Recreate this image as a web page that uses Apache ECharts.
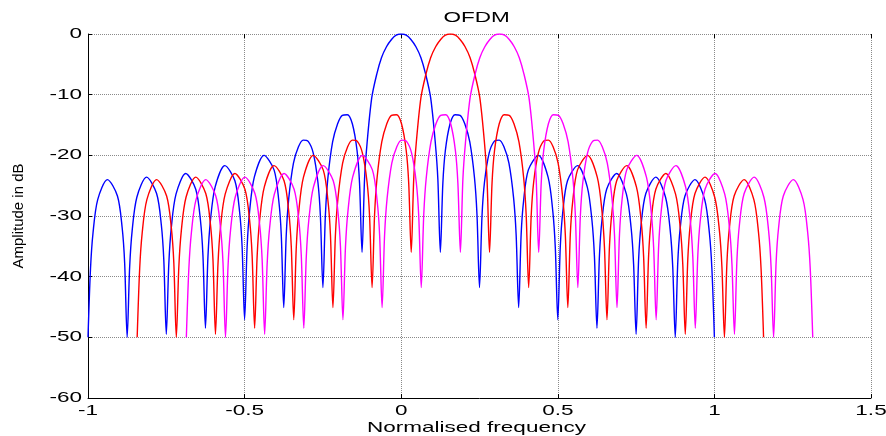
<!DOCTYPE html>
<html><head><meta charset="utf-8">
<script src="https://cdn.jsdelivr.net/npm/echarts@6/dist/echarts.min.js"></script>
<style>html,body{margin:0;padding:0;background:#fff}#c{width:886px;height:436px}</style>
</head><body><div id="c"></div>
<script>
const titleText = 'OFDM';
const xAxisTitle = 'Normalised frequency';
const yAxisTitle = 'Amplitude in dB';
const xTicks = [-1, -0.5, 0, 0.5, 1, 1.5];
const xTickLabels = ['-1', '-0.5', '0', '0.5', '1', '1.5'];
const yTicks = [0, -10, -20, -30, -40, -50, -60];
const yTickLabels = ['0', '-10', '-20', '-30', '-40', '-50', '-60'];

const blueX = [-1, -0.992, -0.984, -0.969, -0.938, -0.906, -0.891, -0.883, -0.875, -0.867, -0.859, -0.844, -0.813, -0.781, -0.766, -0.758, -0.75, -0.742, -0.734, -0.719, -0.688, -0.656, -0.641, -0.633, -0.625, -0.617, -0.609, -0.594, -0.563, -0.531, -0.516, -0.508, -0.5, -0.492, -0.484, -0.469, -0.438, -0.406, -0.391, -0.383, -0.375, -0.367, -0.359, -0.344, -0.328, -0.313, -0.297, -0.281, -0.266, -0.258, -0.25, -0.242, -0.234, -0.219, -0.203, -0.188, -0.172, -0.156, -0.141, -0.133, -0.125, -0.117, -0.109, -0.094, -0.078, -0.063, -0.047, -0.031, -0.016,
  0, 0.016, 0.031, 0.047, 0.063, 0.078, 0.094, 0.109, 0.117, 0.125, 0.133, 0.141, 0.156, 0.172, 0.188, 0.203, 0.219, 0.234, 0.242, 0.25, 0.258, 0.266, 0.281, 0.297, 0.313, 0.328, 0.344, 0.359, 0.367, 0.375, 0.383, 0.391, 0.406, 0.438, 0.469, 0.484, 0.492, 0.5, 0.508, 0.516, 0.531, 0.563, 0.594, 0.609, 0.617, 0.625, 0.633, 0.641, 0.656, 0.688, 0.719, 0.734, 0.742, 0.75, 0.758, 0.766, 0.781, 0.813, 0.844, 0.859, 0.867, 0.875, 0.883, 0.891, 0.906, 0.938, 0.969, 0.984, 0.992, 1.0];
const blueY = [-50, -38.7, -32.8, -27.3, -24.0, -26.7, -31.9, -37.7, -50, -38.4, -32.4, -26.9, -23.6, -26.3, -31.4, -37.2, -49.5, -37.9, -31.9, -26.4, -23.0, -25.6, -30.7, -36.5, -48.5, -36.7, -30.7, -25.2, -21.7, -24.2, -29.3, -35.0, -47.1, -35.2, -29.2, -23.6, -20.0, -22.4, -27.4, -33.0, -45.1, -33.1, -27.1, -21.3, -18.6, -17.5, -17.7, -19.6, -24.4, -30.0, -41.8, -29.8, -23.7, -17.8, -14.8, -13.4, -13.3, -14.8, -19.2, -24.6, -36.0, -23.9, -18.0, -10.5, -6.6, -3.9, -2.1, -0.9, -0.2,
  0, -0.2, -0.9, -2.1, -3.9, -6.6, -10.5, -18.0, -23.9, -36.0, -24.6, -19.2, -14.8, -13.3, -13.4, -14.8, -17.8, -23.7, -29.8, -41.8, -30.0, -24.4, -19.6, -17.7, -17.5, -18.6, -21.3, -27.1, -33.1, -45.1, -33.0, -27.4, -22.4, -20.0, -23.6, -29.2, -35.2, -47.1, -35.0, -29.3, -24.2, -21.7, -25.2, -30.7, -36.7, -48.5, -36.5, -30.7, -25.6, -23.0, -26.4, -31.9, -37.9, -49.5, -37.2, -31.4, -26.3, -23.6, -26.9, -32.4, -38.4, -50, -37.7, -31.9, -26.7, -24.0, -27.3, -32.8, -38.7, -50];

const redX = [-0.843, -0.835, -0.827, -0.812, -0.781, -0.749, -0.734, -0.726, -0.718, -0.710, -0.702, -0.687, -0.656, -0.624, -0.609, -0.601, -0.593, -0.585, -0.577, -0.562, -0.531, -0.499, -0.484, -0.476, -0.468, -0.460, -0.452, -0.437, -0.406, -0.374, -0.359, -0.351, -0.343, -0.335, -0.327, -0.312, -0.281, -0.249, -0.234, -0.226, -0.218, -0.210, -0.202, -0.187, -0.171, -0.156, -0.140, -0.124, -0.109, -0.101, -0.093, -0.085, -0.077, -0.062, -0.046, -0.031, -0.015, 0.001, 0.016, 0.024, 0.032, 0.040, 0.048, 0.063, 0.079, 0.094, 0.110, 0.126, 0.141,
  0.157, 0.173, 0.188, 0.204, 0.220, 0.235, 0.251, 0.266, 0.274, 0.282, 0.290, 0.298, 0.313, 0.329, 0.345, 0.360, 0.376, 0.391, 0.399, 0.407, 0.415, 0.423, 0.438, 0.454, 0.470, 0.485, 0.501, 0.516, 0.524, 0.532, 0.540, 0.548, 0.563, 0.595, 0.626, 0.641, 0.649, 0.657, 0.665, 0.673, 0.688, 0.720, 0.751, 0.766, 0.774, 0.782, 0.790, 0.798, 0.813, 0.845, 0.876, 0.891, 0.899, 0.907, 0.915, 0.923, 0.938, 0.970, 1.001, 1.016, 1.024, 1.032, 1.040, 1.048, 1.063, 1.095, 1.126, 1.141, 1.149, 1.157];
const redY = [-50, -38.7, -32.8, -27.3, -24.0, -26.7, -31.9, -37.7, -50, -38.4, -32.4, -26.9, -23.6, -26.3, -31.4, -37.2, -49.5, -37.9, -31.9, -26.4, -23.0, -25.6, -30.7, -36.5, -48.5, -36.7, -30.7, -25.2, -21.7, -24.2, -29.3, -35.0, -47.1, -35.2, -29.2, -23.6, -20.0, -22.4, -27.4, -33.0, -45.1, -33.1, -27.1, -21.3, -18.6, -17.5, -17.7, -19.6, -24.4, -30.0, -41.8, -29.8, -23.7, -17.8, -14.8, -13.4, -13.3, -14.8, -19.2, -24.6, -36.0, -23.9, -18.0, -10.5, -6.6, -3.9, -2.1, -0.9, -0.2,
  0, -0.2, -0.9, -2.1, -3.9, -6.6, -10.5, -18.0, -23.9, -36.0, -24.6, -19.2, -14.8, -13.3, -13.4, -14.8, -17.8, -23.7, -29.8, -41.8, -30.0, -24.4, -19.6, -17.7, -17.5, -18.6, -21.3, -27.1, -33.1, -45.1, -33.0, -27.4, -22.4, -20.0, -23.6, -29.2, -35.2, -47.1, -35.0, -29.3, -24.2, -21.7, -25.2, -30.7, -36.7, -48.5, -36.5, -30.7, -25.6, -23.0, -26.4, -31.9, -37.9, -49.5, -37.2, -31.4, -26.3, -23.6, -26.9, -32.4, -38.4, -50, -37.7, -31.9, -26.7, -24.0, -27.3, -32.8, -38.7, -50];

const magentaX = [-0.686, -0.678, -0.670, -0.655, -0.624, -0.592, -0.577, -0.569, -0.561, -0.553, -0.545, -0.530, -0.499, -0.467, -0.452, -0.444, -0.436, -0.428, -0.420, -0.405, -0.374, -0.342, -0.327, -0.319, -0.311, -0.303, -0.295, -0.280, -0.249, -0.217, -0.202, -0.194, -0.186, -0.178, -0.170, -0.155, -0.124, -0.092, -0.077, -0.069, -0.061, -0.053, -0.045, -0.030, -0.014, 0.001, 0.017, 0.033, 0.048, 0.056, 0.064, 0.072, 0.080, 0.095, 0.111, 0.126, 0.142, 0.158, 0.173, 0.181, 0.189, 0.197, 0.205, 0.220, 0.236, 0.251, 0.267, 0.283, 0.298,
  0.314, 0.330, 0.345, 0.361, 0.377, 0.392, 0.408, 0.423, 0.431, 0.439, 0.447, 0.455, 0.470, 0.486, 0.502, 0.517, 0.533, 0.548, 0.556, 0.564, 0.572, 0.580, 0.595, 0.611, 0.627, 0.642, 0.658, 0.673, 0.681, 0.689, 0.697, 0.705, 0.720, 0.752, 0.783, 0.798, 0.806, 0.814, 0.822, 0.830, 0.845, 0.877, 0.908, 0.923, 0.931, 0.939, 0.947, 0.955, 0.970, 1.002, 1.033, 1.048, 1.056, 1.064, 1.072, 1.080, 1.095, 1.127, 1.158, 1.173, 1.181, 1.189, 1.197, 1.205, 1.220, 1.252, 1.283, 1.298, 1.306, 1.314];
const magentaY = [-50, -38.7, -32.8, -27.3, -24.0, -26.7, -31.9, -37.7, -50, -38.4, -32.4, -26.9, -23.6, -26.3, -31.4, -37.2, -49.5, -37.9, -31.9, -26.4, -23.0, -25.6, -30.7, -36.5, -48.5, -36.7, -30.7, -25.2, -21.7, -24.2, -29.3, -35.0, -47.1, -35.2, -29.2, -23.6, -20.0, -22.4, -27.4, -33.0, -45.1, -33.1, -27.1, -21.3, -18.6, -17.5, -17.7, -19.6, -24.4, -30.0, -41.8, -29.8, -23.7, -17.8, -14.8, -13.4, -13.3, -14.8, -19.2, -24.6, -36.0, -23.9, -18.0, -10.5, -6.6, -3.9, -2.1, -0.9, -0.2,
  0, -0.2, -0.9, -2.1, -3.9, -6.6, -10.5, -18.0, -23.9, -36.0, -24.6, -19.2, -14.8, -13.3, -13.4, -14.8, -17.8, -23.7, -29.8, -41.8, -30.0, -24.4, -19.6, -17.7, -17.5, -18.6, -21.3, -27.1, -33.1, -45.1, -33.0, -27.4, -22.4, -20.0, -23.6, -29.2, -35.2, -47.1, -35.0, -29.3, -24.2, -21.7, -25.2, -30.7, -36.7, -48.5, -36.5, -30.7, -25.6, -23.0, -26.4, -31.9, -37.9, -49.5, -37.2, -31.4, -26.3, -23.6, -26.9, -32.4, -38.4, -50, -37.7, -31.9, -26.7, -24.0, -27.3, -32.8, -38.7, -50];

function pairs(xs, ys) { return xs.map((x, i) => [x, ys[i]]); }

const chart = echarts.init(document.getElementById('c'), null, { renderer: 'canvas' });
const gridStyle = { color: '#8a8a8a', width: 1, type: [1, 1] };
const tickStyle = { color: '#000', width: 1 };
function lineSeries(name, xs, ys, color) {
  return { name, type: 'line', data: pairs(xs, ys), showSymbol: false, symbol: 'none', smooth: 0.3,
    lineStyle: { color, width: 1.4 }, itemStyle: { color }, silent: true };
}
chart.setOption({
  animation: false,
  backgroundColor: '#fff',
  grid: { left: 88, right: 15, top: 34, bottom: 38 },
  xAxis: [
    { type: 'value', min: -1, max: 1.5, interval: 0.5,
      axisLine: { show: true, onZero: false, lineStyle: { color: '#000', width: 1 } },
      axisTick: { show: true, inside: true, length: 4, lineStyle: tickStyle },
      axisLabel: { show: false },
      splitLine: { show: true, lineStyle: gridStyle } },
    { type: 'value', position: 'top', min: -1, max: 1.5, interval: 0.5,
      axisLine: { show: false, onZero: false },
      axisTick: { show: true, inside: true, length: 4, lineStyle: tickStyle },
      axisLabel: { show: false }, splitLine: { show: false } }
  ],
  yAxis: [
    { type: 'value', min: -60, max: 0, interval: 10,
      axisLine: { show: true, onZero: false, lineStyle: { color: '#000', width: 1 } },
      axisTick: { show: true, inside: true, length: 4, lineStyle: tickStyle },
      axisLabel: { show: false },
      splitLine: { show: true, lineStyle: gridStyle } }
  ],
  series: [
    lineSeries('blue', blueX, blueY, '#0000ff'),
    lineSeries('red', redX, redY, '#ff0000'),
    lineSeries('magenta', magentaX, magentaY, '#ff00ff')
  ]
});

const font = '15px "Liberation Sans", Arial, sans-serif';
const sx = 1.5;
const gfx = [];
const yBottom = chart.convertToPixel({ yAxisIndex: 0 }, -60);
const yTop = chart.convertToPixel({ yAxisIndex: 0 }, 0);
const xLeft = chart.convertToPixel({ xAxisIndex: 0 }, -1);
const xRight = chart.convertToPixel({ xAxisIndex: 0 }, 1.5);
const xMid = (xLeft + xRight) / 2;
xTicks.forEach((v, i) => {
  const px = chart.convertToPixel({ xAxisIndex: 0 }, v);
  gfx.push({ type: 'text', x: px, y: yBottom + 5, scaleX: sx, silent: true,
    style: { text: xTickLabels[i], font, fill: '#000', align: 'center', textAlign: 'center', verticalAlign: 'top', textVerticalAlign: 'top' } });
});
yTicks.forEach((v, i) => {
  const py = chart.convertToPixel({ yAxisIndex: 0 }, v);
  gfx.push({ type: 'text', x: xLeft - 6, y: py, scaleX: sx, silent: true,
    style: { text: yTickLabels[i], font, fill: '#000', align: 'right', textAlign: 'right', verticalAlign: 'middle', textVerticalAlign: 'middle' } });
});
gfx.push({ type: 'text', x: xMid - 3, y: yTop - 16, scaleX: sx, silent: true,
  style: { text: titleText, font, fill: '#000', align: 'center', textAlign: 'center', verticalAlign: 'middle', textVerticalAlign: 'middle' } });
gfx.push({ type: 'text', x: xMid - 3, y: yBottom + 30, scaleX: sx, silent: true,
  style: { text: xAxisTitle, font, fill: '#000', align: 'center', textAlign: 'center', verticalAlign: 'middle', textVerticalAlign: 'middle' } });
gfx.push({ type: 'text', x: 19, y: (yTop + yBottom) / 2, rotation: Math.PI / 2, silent: true,
  style: { text: yAxisTitle, font: '15px "Liberation Sans", Arial, sans-serif', fill: '#000', align: 'center', textAlign: 'center', verticalAlign: 'middle', textVerticalAlign: 'middle' } });
chart.setOption({ graphic: { elements: gfx } });
</script>
</body></html>
